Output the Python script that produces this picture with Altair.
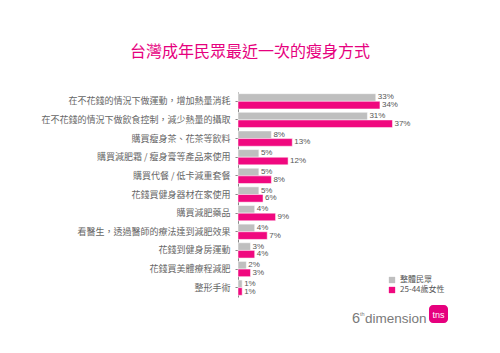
import altair as alt
import pandas as pd

categories = [
    "在不花錢的情況下做運動，增加熱量消耗",
    "在不花錢的情況下做飲食控制，減少熱量的攝取",
    "購買瘦身茶、花茶等飲料",
    "購買減肥霜 / 瘦身膏等產品來使用",
    "購買代餐 / 低卡減重套餐",
    "花錢買健身器材在家使用",
    "購買減肥藥品",
    "看醫生，透過醫師的療法達到減肥效果",
    "花錢到健身房運動",
    "花錢買美體療程減肥",
    "整形手術",
]
overall = [33, 31, 8, 5, 5, 5, 4, 4, 3, 2, 1]
women = [34, 37, 13, 12, 8, 6, 9, 7, 4, 3, 1]
series = ["整體民眾", "25-44歲女性"]
colors = ["#bfbfbf", "#f0087f"]

rows = []
for c, a, b in zip(categories, overall, women):
    rows.append({"cat": c, "series": series[0], "value": a, "label": f"{a}%"})
    rows.append({"cat": c, "series": series[1], "value": b, "label": f"{b}%"})
df = pd.DataFrame(rows)

FONT = "Noto Sans CJK TC"

y = alt.Y("cat:N", sort=categories, title=None,
          scale=alt.Scale(paddingInner=0.18, paddingOuter=0.09),
          axis=alt.Axis(labelFont=FONT, labelFontSize=9, labelColor="#666666",
                        domainColor="#888888", tickColor="#888888", tickSize=3,
                        labelPadding=5, grid=False, labelLimit=300))
yoff = alt.YOffset("series:N", sort=series)
x = alt.X("value:Q", scale=alt.Scale(domain=[0, 40]), axis=None)
color = alt.Color("series:N", sort=series,
                  scale=alt.Scale(domain=series, range=colors),
                  legend=alt.Legend(title=None, orient="none", legendX=150, legendY=184,
                                    symbolType="square", symbolSize=40, labelFont=FONT,
                                    labelFontSize=8, labelColor="#555555", rowPadding=2,
                                    symbolStrokeWidth=0))

base = alt.Chart(df)
bars = base.mark_bar(stroke="white", strokeWidth=0.5).encode(y=y, yOffset=yoff, x=x, color=color)
texts = base.mark_text(align="left", baseline="middle", dx=2, fontSize=8,
                       font="Liberation Sans", color="#555555").encode(
    y=y, yOffset=yoff, x=x, text="label:N")

title = alt.Chart(pd.DataFrame({"t": ["台灣成年民眾最近一次的瘦身方式"]})).mark_text(
    font=FONT, fontSize=16, color="#e6007e", align="center", baseline="middle"
).encode(x=alt.value(12), y=alt.value(-40), text="t:N")

LOGOFONT = "Liberation Sans"
logo6 = alt.Chart(pd.DataFrame({"t": ["6"]})).mark_text(
    font=LOGOFONT, fontSize=14.5, color="#7a7a7a", align="left", baseline="alphabetic"
).encode(x=alt.value(114), y=alt.value(231), text="t:N")
logoth = alt.Chart(pd.DataFrame({"t": ["th"]})).mark_text(
    font=LOGOFONT, fontSize=5.5, color="#7a7a7a", align="left", baseline="alphabetic"
).encode(x=alt.value(122), y=alt.value(224), text="t:N")
logodim = alt.Chart(pd.DataFrame({"t": ["dimension"]})).mark_text(
    font=LOGOFONT, fontSize=13.5, color="#7a7a7a", align="left", baseline="alphabetic"
).encode(x=alt.value(127), y=alt.value(231), text="t:N")
tnsbox = alt.Chart(pd.DataFrame({"a": [1]})).mark_rect(color="#e6007e", cornerRadius=4).encode(
    x=alt.value(191), x2=alt.value(210), y=alt.value(213), y2=alt.value(231))
tnstext = alt.Chart(pd.DataFrame({"t": ["tns"]})).mark_text(
    font="Liberation Sans", fontSize=9, color="white", align="center", baseline="middle"
).encode(x=alt.value(200.5), y=alt.value(222.5), text="t:N")

chart = alt.layer(bars, texts, title, logo6, logoth, logodim, tnsbox, tnstext).properties(
    width=167, height=205,
    autosize=alt.AutoSizeParams(type="none"),
    padding={"left": 238, "top": 92, "right": 95, "bottom": 56},
    background="white",
).configure_view(stroke=None)

chart.save("out.html", embed_options={"renderer": "svg", "actions": False})
